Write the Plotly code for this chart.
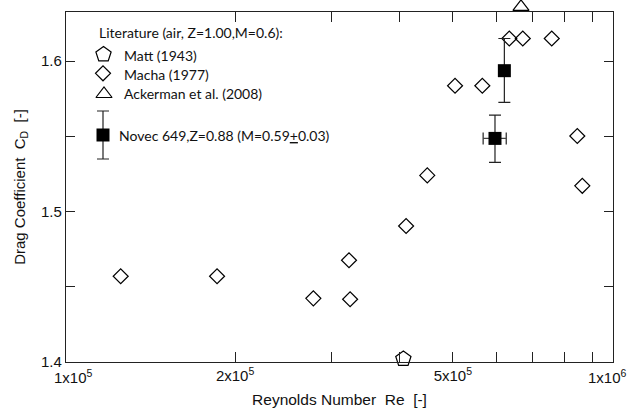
import plotly.graph_objects as go

# Literature data (air)
matt_re = [4.06e5]
matt_cd = [1.402]

macha_re = [1.236e5, 1.854e5, 2.78e5, 3.245e5, 3.23e5, 4.107e5, 4.49e5, 5.046e5,
            5.66e5, 6.34e5, 6.71e5, 7.58e5, 8.44e5, 8.62e5]
macha_cd = [1.457, 1.457, 1.4423, 1.4417, 1.4676, 1.4904, 1.524, 1.5836,
            1.5836, 1.615, 1.615, 1.615, 1.5502, 1.5171]

ackerman_re = [6.66e5]
ackerman_cd = [1.636]

# Novec 649 measurements with uncertainties
novec_re = [6.21e5, 5.97e5]
novec_cd = [1.5936, 1.5486]
novec_cd_err_plus = [0.0214, 0.0155]
novec_cd_err_minus = [0.021, 0.0159]
novec_re_err = [0.0, 0.29e5]

# Axis ticks
x_tickvals = [2e5, 3e5, 4e5, 5e5, 6e5, 7e5, 8e5, 9e5]
x_ticktext = ["2x10<sup>5</sup>", "", "", "5x10<sup>5</sup>", "", "", "", ""]
y_tickvals = [1.4, 1.45, 1.5, 1.55, 1.6]
y_ticktext = ["1.4", "", "1.5", "", "1.6"]

W, H = 627, 412
# plot frame in page pixels
PL, PR, PT, PB = 66, 613, 12, 362
Y_RANGE = [1.4, 1.6326]

AX = "#222222"
SANS = "Liberation Sans"
TICKFONT = dict(family=SANS, size=15, color="#111")
KEYFONT = dict(family="Lato", size=14, color="#111")

x_dom = [PL / W, PR / W]
y_dom = [(H - PB) / H, (H - PT) / H]
# extended y scale (same units per pixel) reaching the top of the page
ppu = (PB - PT) / (Y_RANGE[1] - Y_RANGE[0])
y3_top = Y_RANGE[0] + (H - (H - PB)) / ppu

fig = go.Figure()

mk_line = dict(width=1.2, color="black")
fig.add_trace(go.Scatter(
    x=matt_re, y=matt_cd, mode="markers", cliponaxis=False,
    marker=dict(symbol="pentagon-open", size=16, color="black", line=mk_line),
))
fig.add_trace(go.Scatter(
    x=macha_re, y=macha_cd, mode="markers", cliponaxis=False,
    marker=dict(symbol="diamond-open", size=11.5, color="black", line=mk_line),
))
fig.add_trace(go.Scatter(
    x=ackerman_re, y=ackerman_cd, xaxis="x", yaxis="y3", mode="markers", cliponaxis=False,
    marker=dict(symbol="triangle-up-open", size=14, color="black", line=mk_line),
))
fig.add_trace(go.Scatter(
    x=novec_re, y=novec_cd, mode="markers", cliponaxis=False,
    marker=dict(symbol="square", size=13, color="black"),
    error_y=dict(type="data", symmetric=False, array=novec_cd_err_plus,
                 arrayminus=novec_cd_err_minus, color="#222", thickness=1.2, width=6),
    error_x=dict(type="data", array=novec_re_err, color="#444", thickness=1.4, width=6),
))

# Key, drawn on a page-pixel overlay axis pair
key_x = [103.5, 103, 104]
key_y = [54.5, 73.3, 94]
key_symbols = ["pentagon-open", "diamond-open", "triangle-up-open"]
key_sizes = [16, 11.5, 14]
for kx, ky, ks, ksz in zip(key_x, key_y, key_symbols, key_sizes):
    fig.add_trace(go.Scatter(
        x=[kx], y=[ky], xaxis="x2", yaxis="y2", mode="markers", cliponaxis=False,
        marker=dict(symbol=ks, size=ksz, color="black", line=mk_line),
    ))
fig.add_trace(go.Scatter(
    x=[103], y=[135], xaxis="x2", yaxis="y2", mode="markers", cliponaxis=False,
    marker=dict(symbol="square", size=13, color="black"),
    error_y=dict(type="data", array=[24], color="#222", thickness=1.2, width=6),
))

key_text = [
    (97, 32, "Literature (air, Z=1.00,M=0.6):"),
    (122, 55, "Matt (1943)"),
    (122, 74, "Macha (1977)"),
    (122, 93, "Ackerman et al. (2008)"),
    (117, 135, "Novec 649,Z=0.88 (M=0.59<u>+</u>0.03)"),
]
for tx, ty, t in key_text:
    fig.add_annotation(x=tx, y=ty, xref="x2", yref="y2", text=t, showarrow=False,
                       xanchor="left", yanchor="middle", font=KEYFONT)

# Decade labels at the ends of the log axis
fig.add_annotation(x=5.0, y=y_dom[0], xref="x", yref="paper", text="1x10<sup>5</sup>",
                   showarrow=False, yanchor="top", xanchor="center", yshift=-3, xshift=3,
                   font=TICKFONT)
fig.add_annotation(x=607 / W, y=y_dom[0], xref="paper", yref="paper", text="1x10<sup>6</sup>",
                   showarrow=False, yanchor="top", xanchor="center", yshift=-3,
                   font=TICKFONT)

fig.update_layout(
    width=W, height=H,
    margin=dict(l=0, r=0, t=0, b=0),
    paper_bgcolor="white", plot_bgcolor="rgba(0,0,0,0)",
    showlegend=False,
    xaxis=dict(
        domain=x_dom, anchor="y", automargin=False,
        type="log", range=[4.9921, 5.9916],
        tickvals=x_tickvals, ticktext=x_ticktext,
        ticks="inside", ticklen=10, tickwidth=1.1, tickcolor=AX,
        showline=True, linecolor=AX, linewidth=1.3, mirror="ticks",
        showgrid=False, zeroline=False, tickfont=TICKFONT,
        title=dict(text="Reynolds Number  Re  [-]", font=dict(family=SANS, size=15.5, color="#111"),
                   standoff=10),
    ),
    yaxis=dict(
        domain=y_dom, anchor="x", automargin=False,
        range=Y_RANGE,
        tickvals=y_tickvals, ticktext=y_ticktext,
        ticks="inside", ticklen=9, tickwidth=1.1, tickcolor=AX,
        showline=True, linecolor=AX, linewidth=1.3, mirror="ticks",
        showgrid=False, zeroline=False, tickfont=TICKFONT,
        title=dict(text="Drag Coefficient  C<sub>D</sub>  [-]", font=dict(family=SANS, size=15, color="#111"),
                   standoff=11),
    ),
    yaxis3=dict(domain=[y_dom[0], 1.0], anchor="x", range=[Y_RANGE[0], y3_top],
                visible=False, fixedrange=True),
    xaxis2=dict(domain=[0, 1], anchor="y2", range=[0, W], visible=False, fixedrange=True),
    yaxis2=dict(domain=[0, 1], anchor="x2", range=[H, 0], visible=False, fixedrange=True),
)

fig.write_html("out.html")
